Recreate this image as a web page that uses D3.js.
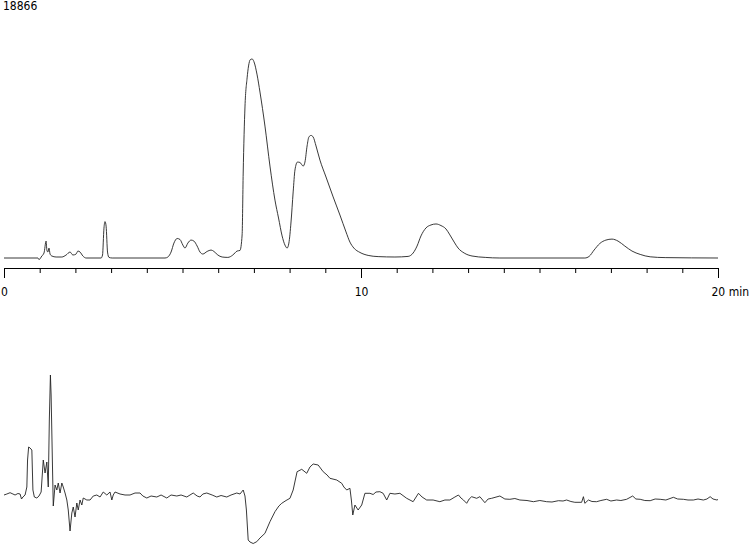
<!DOCTYPE html>
<html>
<head>
<meta charset="utf-8">
<script src="https://cdn.jsdelivr.net/npm/d3@7"></script>
<style>
  html, body { margin: 0; padding: 0; background: #fff; }
  svg { display: block; }
  text { font-family: "DejaVu Sans Condensed", "DejaVu Sans", Verdana, sans-serif; font-stretch: condensed; fill: #000; }
</style>
</head>
<body>
<svg id="chart" width="750" height="545"></svg>
<script>
// ---------- data ----------
const sampleName = "18866";
const axisMajorTicks = [0, 10, 20];
const axisMinorTicks = d3.range(0, 21, 1);
const axisUnit = "min";

// upper trace (detector 1): time in min, signal (relative units)
const upperTime = [0,0.95,0.98,1.06,1.12,1.18,1.20,1.23,1.26,1.29,1.34,1.46,1.62,1.74,1.85,1.93,2.02,2.07,2.13,2.21,2.30,2.72,2.76,2.80,2.83,2.86,2.90,2.94,3.03,4.51,4.59,4.68,4.76,4.85,4.93,5.01,5.07,5.15,5.24,5.32,5.41,5.49,5.57,5.69,5.80,5.88,5.99,6.11,6.27,6.41,6.53,6.61,6.67,6.70,6.75,6.81,6.85,6.90,6.95,7.00,7.09,7.17,7.31,7.45,7.59,7.69,7.79,7.87,7.93,7.98,8.04,8.10,8.15,8.22,8.29,8.38,8.43,8.49,8.54,8.60,8.66,8.74,8.85,9.02,9.22,9.41,9.58,9.69,9.80,9.97,10.20,10.48,10.95,11.32,11.46,11.57,11.68,11.82,11.96,12.10,12.24,12.38,12.49,12.61,12.72,12.89,13.11,13.48,13.89,16.27,16.39,16.53,16.69,16.86,17.03,17.20,17.39,17.59,17.82,18.10,18.52,20.00];
const upperSignal = [0,0,-0.8,1.0,2.5,8.5,4.0,3.0,5.0,2.0,1.0,0.5,0.5,1.5,3.0,1.5,2.0,3.5,3.0,1.0,0,0,1.5,15,18.3,16,3,0.3,0,0,0.5,3,7.5,9.8,9.3,6.5,5.0,7.5,9.0,8.5,6.0,3.0,2.0,3.3,4.0,3.3,1.5,0.5,0.3,1.5,3.5,3.8,11.6,42.7,75.9,90.5,96.5,99.7,100,98.7,92,83.4,66.3,46.2,29.1,20.1,11.1,6.5,5.0,7.5,18.1,33.2,44.2,48.2,48.0,46.2,48.2,56.3,60.8,61.6,60.8,56.3,49.2,40.7,30.7,21.6,13.1,8.0,5.0,2.8,1.3,0.7,0.5,0.8,2.5,6.0,11.1,15.1,16.6,17.1,16.3,14.6,11.6,8.0,5.0,2.5,1.0,0.3,0,0,0.8,4.0,7.3,9.0,9.5,8.5,6.0,3.5,1.8,0.6,0.2,0];

// lower trace (detector 2): time in min, signal (relative units)
const lowerTime = [0.00,0.08,0.17,0.25,0.31,0.39,0.45,0.49,0.53,0.59,0.64,0.66,0.69,0.73,0.78,0.81,0.85,0.92,0.98,1.04,1.10,1.15,1.20,1.24,1.27,1.30,1.32,1.36,1.38,1.43,1.48,1.52,1.57,1.62,1.66,1.71,1.76,1.80,1.85,1.90,1.94,1.99,2.04,2.08,2.13,2.18,2.22,2.32,2.41,2.50,2.60,2.69,2.78,2.88,2.97,3.02,3.06,3.11,3.25,3.39,3.53,3.67,3.81,3.89,4.00,4.12,4.28,4.40,4.56,4.68,4.84,4.96,5.12,5.21,5.30,5.41,5.49,5.57,5.68,5.83,5.96,6.08,6.24,6.36,6.52,6.61,6.70,6.75,6.79,6.84,6.89,6.98,7.08,7.17,7.31,7.45,7.59,7.70,7.78,7.90,8.01,8.10,8.16,8.21,8.34,8.48,8.57,8.66,8.80,8.94,9.05,9.13,9.32,9.46,9.52,9.60,9.69,9.73,9.77,9.83,9.92,10.02,10.11,10.25,10.34,10.42,10.53,10.62,10.72,10.81,10.95,11.09,11.28,11.46,11.61,11.71,11.84,12.02,12.21,12.35,12.49,12.63,12.73,12.80,12.87,12.96,13.03,13.10,13.24,13.33,13.47,13.56,13.66,13.89,14.03,14.17,14.31,14.45,14.65,14.83,15.01,15.20,15.35,15.53,15.66,15.76,15.88,15.99,16.18,16.23,16.27,16.37,16.47,16.60,16.72,16.88,17.00,17.16,17.28,17.44,17.61,17.70,17.82,17.95,18.10,18.24,18.38,18.54,18.75,18.87,19.03,19.16,19.31,19.44,19.59,19.69,19.78,19.86,19.97,20.00];
const lowerSignal = [-1,0,1.3,0,-1,0.5,0,-5,-3,-1,7,34,47,46,44,4,-3,-4,-2,2,34,21,32,7,74,119,99,24,-12,9,4,11,1,11,7,1,-6,-16,-37,-19,-13,-23,-9,-16,-6,-11,-4,-6,-6,-2,-1,-3,2,-1,2,-6,-1,2,0,-1,-1,1,1,-2,-4,-2,-3,-1,-4,-1,-2,-1,-3,-1,1,-2,-3,0,1,-1,-3,-1.5,-3,-1,1,0,4,-2,-16,-46,-48,-49.5,-47.7,-44,-39.3,-27.7,-17.7,-12,-9.3,-6.5,-4.3,4,14,22.3,24.7,20.7,27,30,29,22.3,19,15.7,14,10.7,7,4,5.7,-6,-21,-11,-16,-11,0.7,0.7,-0.5,2,2.3,0.7,-6,0.7,0,0.7,-4.3,-7.7,0.7,-3,-6,-6,-7.7,-6,-6,-3,-1,-4,-6,-9.3,-5,-2.7,-4.3,-2.7,-8.7,-5,-4.3,-2,-5,-5.3,-4.5,-6,-6.5,-7.7,-6.5,-7.7,-8,-6.7,-7,-6,-7.5,-8.3,-8.3,-2.7,-9.3,-6,-7.5,-7.7,-6.5,-5.3,-7,-6,-6.5,-5.3,-2,-5,-5.3,-6.5,-6.7,-5,-5.3,-6,-3.3,-5,-5.3,-6,-6,-5,-6,-5,-2.7,-5,-6,-5.5];

// ---------- drawing ----------
const svg = d3.select("#chart");

const x = d3.scaleLinear().domain([0, 20]).range([4, 718]);
const yUpper = d3.scaleLinear().domain([0, 100]).range([258, 59]);
const yLower = d3.scaleLinear().domain([-50, 120]).range([544, 374]);

svg.append("text")
  .attr("x", 3).attr("y", 10)
  .attr("font-size", 12)
  .text(sampleName);

const upperData = upperTime.map((t, i) => [t, upperSignal[i]]);
const lowerData = lowerTime.map((t, i) => [t, lowerSignal[i]]);

svg.append("path")
  .datum(upperData)
  .attr("fill", "none")
  .attr("stroke", "#222")
  .attr("stroke-width", 0.9)
  .attr("d", d3.line().x(d => x(d[0])).y(d => yUpper(d[1])).curve(d3.curveMonotoneX));

svg.append("path")
  .datum(lowerData)
  .attr("fill", "none")
  .attr("stroke", "#222")
  .attr("stroke-width", 0.9)
  .attr("d", d3.line().x(d => x(d[0])).y(d => yLower(d[1])).curve(d3.curveLinear));

// axis
const axisY = 268;
const minorAxis = d3.axisBottom(x).tickValues(axisMinorTicks).tickSize(5).tickSizeOuter(0).tickFormat("");
const gMinor = svg.append("g").attr("transform", `translate(0,${axisY})`).call(minorAxis);
gMinor.selectAll("path, line").attr("stroke", "#000").attr("stroke-width", 1);

const majorAxis = d3.axisBottom(x).tickValues(axisMajorTicks).tickSize(10).tickSizeOuter(0)
  .tickFormat(d => d === 20 ? `${d} ${axisUnit}` : d);
const gMajor = svg.append("g").attr("transform", `translate(0,${axisY})`).call(majorAxis);
gMajor.select(".domain").remove();
gMajor.selectAll("line").attr("stroke", "#000").attr("stroke-width", 1);
gMajor.selectAll("text")
  .attr("font-family", "'DejaVu Sans Condensed', 'DejaVu Sans', Verdana, sans-serif")
  .attr("font-size", 12)
  .attr("fill", "#000")
  .attr("y", 0).attr("dy", null)
  .attr("transform", "translate(0,28)")
  .attr("text-anchor", d => d === 20 ? "start" : "middle")
  .attr("dx", d => d === 20 ? -7 : 0);
</script>
</body>
</html>
